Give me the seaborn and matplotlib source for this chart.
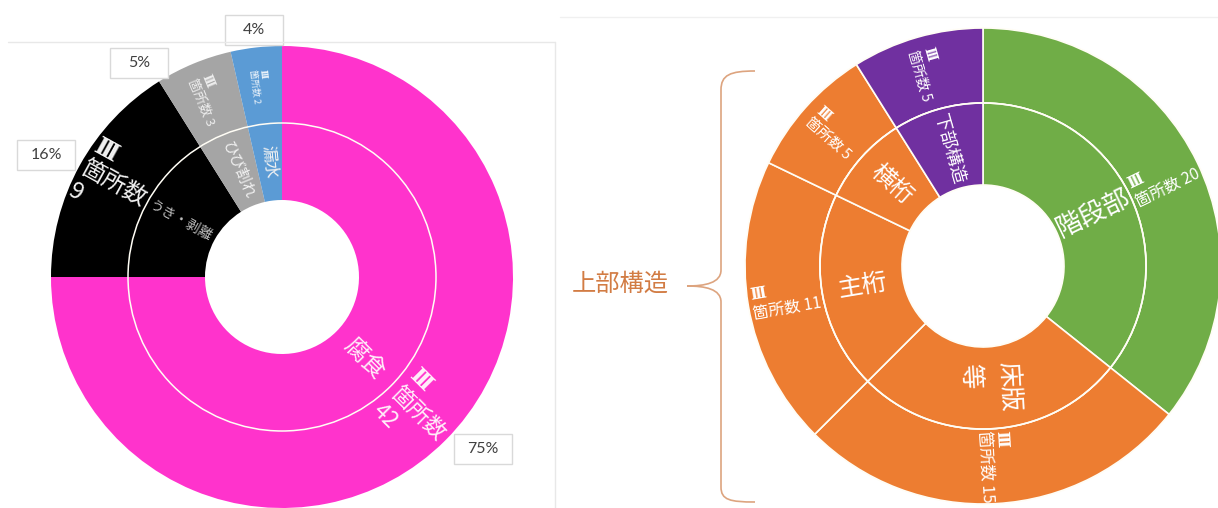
import numpy as np
import matplotlib
matplotlib.use("Agg")
import matplotlib.pyplot as plt
from matplotlib.patches import Circle, Rectangle, PathPatch
from matplotlib.path import Path
import seaborn as sns

# left chart: damage type (count of level III spots)
damage_names = ["腐食", "うき・剥離", "ひび割れ", "漏水"]
damage_counts = [42, 9, 3, 2]
damage_colors = ["#FF33CC", "#000000", "#A5A5A5", "#5B9BD5"]

# right chart: member
member_names = ["階段部", "床版\n等", "主桁", "横桁", "下部構造"]
member_counts = [20, 15, 11, 5, 5]
member_colors = ["#70AD47", "#ED7D31", "#ED7D31", "#ED7D31", "#7030A0"]
upper_label = "上部構造"
level = r"$\mathbf{Ⅲ}$"

sns.set_theme(style="white")
plt.rcParams['font.family'] = ['Noto Sans CJK JP', 'DejaVu Sans']
plt.rcParams['mathtext.fontset'] = 'dejavuserif'

fig = plt.figure(figsize=(12.18, 5.08), dpi=100)
ax = fig.add_axes([0, 0, 1, 1])


def ring_pos(cx, cy, r, theta):
    t = np.radians(theta)
    return cx + r * np.sin(t), cy - r * np.cos(t)


def radial_rot(theta):
    return ((90 - theta + 90) % 180) - 90


def draw_sunburst(cx, cy, r_hole, r_mid, r_out, counts, colors, edge_lw):
    wp = dict(edgecolor="#FFFDF5", linewidth=edge_lw)
    ax.pie(counts, colors=colors, radius=r_out, center=(cx, cy), startangle=-90,
           counterclock=True, wedgeprops=dict(width=r_out - r_mid, **wp))
    ax.pie(counts, colors=colors, radius=r_mid, center=(cx, cy), startangle=-90,
           counterclock=True, wedgeprops=dict(width=r_mid - r_hole, **wp))
    ax.add_patch(Circle((cx, cy), r_mid, fill=False, edgecolor="#FFFDF5", lw=1.1))
    total = float(sum(counts))
    cum = np.cumsum([0] + list(counts))[:-1]
    return [(c + v / 2) / total * 360 for c, v in zip(cum, counts)]


def put(cx, cy, r, theta, txt, size, color, ls=1.15):
    x, y = ring_pos(cx, cy, r, theta)
    ax.text(x, y, txt, rotation=radial_rot(theta), rotation_mode="anchor",
            ha="center", va="center", multialignment="left", fontsize=size,
            color=color, linespacing=ls)


# ---- left chart ----
lcx, lcy = 282, 277
l_hole, l_mid, l_out = 77, 154, 231
ax.plot([8, 555], [42, 42], color="#E8E8E8", lw=1)
ax.plot([555, 555], [42, 508], color="#E8E8E8", lw=1)
mids = draw_sunburst(lcx, lcy, l_hole, l_mid, l_out, damage_counts, damage_colors, 0)

inner_sizes = [17, 10, 11, 12]
inner_cols = ["#FFF0FA", "#BFBFBF", "#F2F2F2", "#F2F2F2"]
outer_sizes = [16, 17, 9.5, 6.5]
outer_cols = ["#FFF0FA", "#F2F2F2", "#EDEDED", "#EAF2FA"]
for i, th in enumerate(mids):
    put(lcx, lcy, (l_hole + l_mid) / 2, th, damage_names[i], inner_sizes[i], inner_cols[i])
    if damage_counts[i] >= 9:
        lab = level + "\n箇所数\n%d" % damage_counts[i]
    else:
        lab = level + "\n箇所数 %d" % damage_counts[i]
    put(lcx, lcy, (l_mid + l_out) / 2, th, lab, outer_sizes[i], outer_cols[i])

# percent boxes
total = sum(damage_counts)
pct_box_xy = [(483, 449), (46, 155), (139, 63), (254, 30)]
for v, (bx, by) in zip(damage_counts, pct_box_xy):
    ax.add_patch(Rectangle((bx - 29, by - 15), 58, 30, facecolor="white",
                           edgecolor="#D9D9D9", lw=1))
    ax.text(bx, by, "%d%%" % round(v / total * 100), ha="center", va="center",
            fontsize=11.5, color="#404040", family=["Lato", "DejaVu Sans"])

# ---- right chart ----
rcx, rcy = 983, 266
r_hole, r_mid, r_out = 81, 163, 238
ax.plot([560, 1218], [17, 17], color="#F0F0F0", lw=1)
mids = draw_sunburst(rcx, rcy, r_hole, r_mid, r_out, member_counts, member_colors, 1.2)

m_inner_sizes = [19, 18, 18, 17, 13]
m_outer_sizes = [11.5, 12, 11.5, 10.5, 10]
for i, th in enumerate(mids):
    ls = 1.6 if "\n" in member_names[i] else 1.15
    put(rcx, rcy, (r_hole + r_mid) / 2, th, member_names[i], m_inner_sizes[i], "white", ls)
    put(rcx, rcy, (r_mid + r_out) / 2, th, level + "\n箇所数 %d" % member_counts[i],
        m_outer_sizes[i], "white")

# brace for 上部構造
verts = [(755, 71), (730, 71), (721, 75), (721, 90),
         (721, 270),
         (721, 283), (705, 286), (687, 286),
         (705, 286), (721, 289), (721, 302),
         (721, 487),
         (721, 500), (730, 502), (755, 502)]
codes = [Path.MOVETO, Path.CURVE4, Path.CURVE4, Path.CURVE4,
         Path.LINETO,
         Path.CURVE4, Path.CURVE4, Path.CURVE4,
         Path.CURVE4, Path.CURVE4, Path.CURVE4,
         Path.LINETO,
         Path.CURVE4, Path.CURVE4, Path.CURVE4]
ax.add_patch(PathPatch(Path(verts, codes), fill=False, edgecolor="#DDA47F", lw=1.2))
ax.text(620, 284, upper_label, ha="center", va="center", fontsize=17.5, color="#D27C44")

ax.set_xlim(0, 1218)
ax.set_ylim(508, 0)
ax.set_aspect("equal")
ax.axis("off")
fig.savefig("out.png", dpi=100)
